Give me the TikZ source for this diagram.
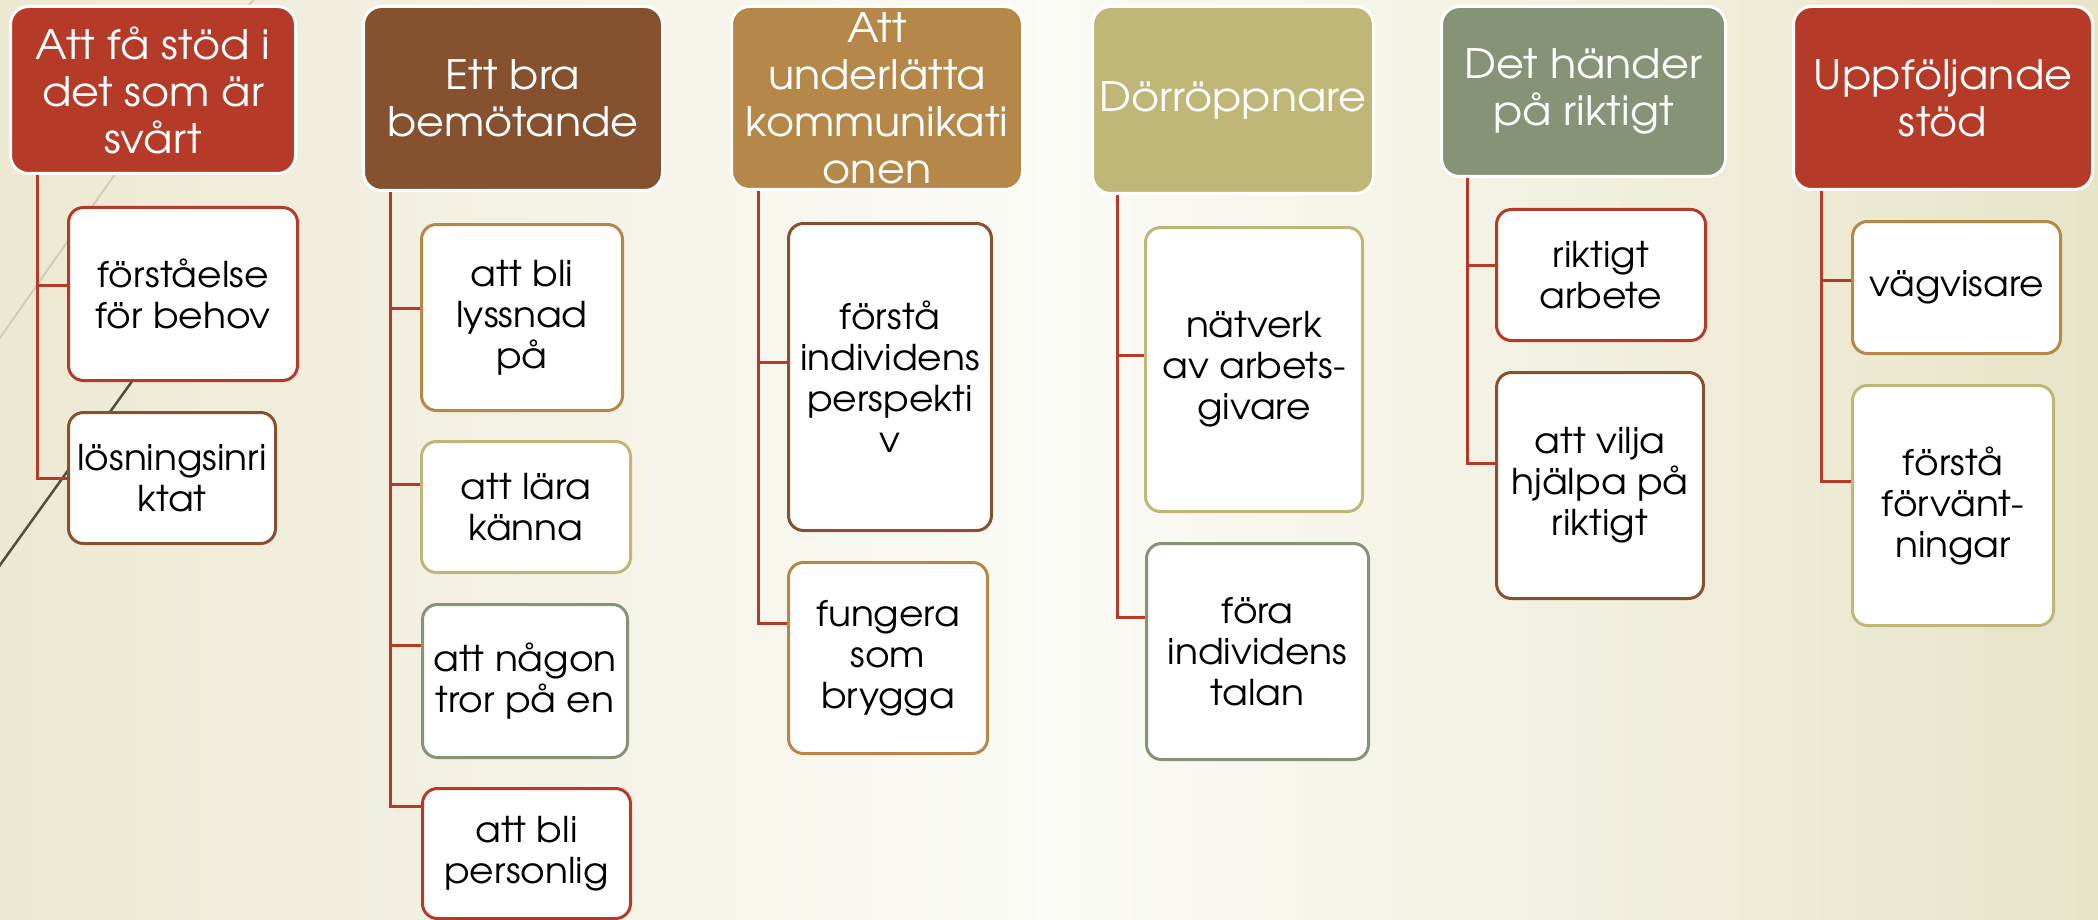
\documentclass[tikz,border=0pt]{standalone}
\usepackage{fontspec}
\setmainfont{TeX Gyre Adventor}[FakeStretch=1.06]
\usepackage{tikz}
\definecolor{wred}{HTML}{B53B28}
\definecolor{wbrown}{HTML}{85512F}
\definecolor{wochre}{HTML}{B5884A}
\definecolor{wkhaki}{HTML}{BFB678}
\definecolor{wsage}{HTML}{869376}
\definecolor{bgside}{HTML}{ECE8D1}
\definecolor{bgmid}{HTML}{FBFBF7}
\definecolor{bgright}{HTML}{E8E4C8}

\begin{document}
\begin{tikzpicture}[x=1pt,y=-1pt,
  head/.style={rectangle,rounded corners=18pt,draw=white,line width=3pt,anchor=north west,inner sep=0pt,align=center,text=white,font=\fontsize{40.5}{47}\selectfont},
  item/.style={rectangle,rounded corners=15pt,fill=white,line width=3pt,anchor=north west,inner sep=0pt,align=center,text=black,font=\fontsize{35.5}{41}\selectfont},
  conn/.style={draw=wred,line width=3pt}]
\useasboundingbox (0,0) rectangle (2098,920);
\shade[left color=bgside,right color=bgright,middle color=bgmid] (0,0) rectangle (2098,920);
\draw[color=black!12!bgside,line width=2pt] (262,-10) .. controls (170,95) .. (-5,345);
\draw[color=white!70!bgside,line width=2pt] (205,305) -- (133,380);
\draw[color=black!45!wsage,line width=2.5pt] (133,380) -- (-5,572);

\node[head,fill=wred,minimum width=285pt,minimum height=167pt] (h1) at (9,5) {Att få stöd i\\det som är\\svårt};
\node[item,draw=wred,minimum width=229pt,minimum height=173pt] (c11) at (67,206) {förståelse\\för behov};
\node[item,draw=wbrown,minimum width=207pt,minimum height=131pt] (c12) at (67,411) {lösningsinri\\ktat};

\node[head,fill=wbrown,minimum width=299pt,minimum height=184pt] (h2) at (362,5) {Ett bra\\bemötande};
\node[item,draw=wochre,minimum width=201pt,minimum height=186pt] (c21) at (420,223) {att bli\\lyssnad\\på};
\node[item,draw=wkhaki,minimum width=209pt,minimum height=131pt] (c22) at (420,440) {att lära\\känna};
\node[item,draw=wsage,minimum width=205pt,minimum height=153pt] (c23) at (421,603) {att någon\\tror på en};
\node[item,draw=wred,minimum width=208pt,minimum height=130pt] (c24) at (421,787) {att bli\\personlig};

\node[head,fill=wochre,minimum width=291pt,minimum height=183pt] (h3) at (730,5) {Att\\underlätta\\kommunikati\\onen};
\node[item,draw=wbrown,minimum width=203pt,minimum height=307pt] (c31) at (787,222) {förstå\\individens\\perspekti\\v};
\node[item,draw=wochre,minimum width=199pt,minimum height=191pt] (c32) at (787,561) {fungera\\som\\brygga};

\node[head,fill=wkhaki,minimum width=281pt,minimum height=187pt] (h4) at (1091,5) {Dörröppnare};
\node[item,draw=wkhaki,minimum width=217pt,minimum height=284pt] (c41) at (1144,226) {nätverk\\av arbets-\\givare};
\node[item,draw=wsage,minimum width=222pt,minimum height=216pt] (c42) at (1145,542) {föra\\individens\\talan};

\node[head,fill=wsage,minimum width=284pt,minimum height=170pt] (h5) at (1440,5) {Det händer\\på riktigt};
\node[item,draw=wred,minimum width=209pt,minimum height=131pt] (c51) at (1495,208) {riktigt\\arbete};
\node[item,draw=wbrown,minimum width=207pt,minimum height=226pt] (c52) at (1495,371) {att vilja\\hjälpa på\\riktigt};

\node[head,fill=wred,minimum width=299pt,minimum height=183pt] (h6) at (1792,5) {Uppföljande\\stöd};
\node[item,draw=wochre,minimum width=208pt,minimum height=132pt] (c61) at (1851,220) {vägvisare};
\node[item,draw=wkhaki,minimum width=201pt,minimum height=240pt] (c62) at (1851,384) {förstå\\förvänt-\\ningar};

\draw[conn] ([xshift=28pt]h1.south west) |- (c11.176);
\draw[conn] ([xshift=28pt]h1.south west) |- (c12.west);
\draw[conn] ([xshift=28pt]h2.south west) |- (c21.175);
\draw[conn] ([xshift=28pt]h2.south west) |- (c22.168);
\draw[conn] ([xshift=28pt]h2.south west) |- (c23.161);
\draw[conn] ([xshift=28pt]h2.south west) |- (c24.156);
\draw[conn] ([xshift=28pt]h3.south west) |- (c31.172);
\draw[conn] ([xshift=28pt]h3.south west) |- (c32.161);
\draw[conn] ([xshift=26pt]h4.south west) |- (c41.173);
\draw[conn] ([xshift=26pt]h4.south west) |- (c42.163);
\draw[conn] ([xshift=27pt]h5.south west) |- (c51.175);
\draw[conn] ([xshift=27pt]h5.south west) |- (c52.168);
\draw[conn] ([xshift=29pt]h6.south west) |- (c61.176);
\draw[conn] ([xshift=29pt]h6.south west) |- (c62.167);
\end{tikzpicture}
\end{document}
